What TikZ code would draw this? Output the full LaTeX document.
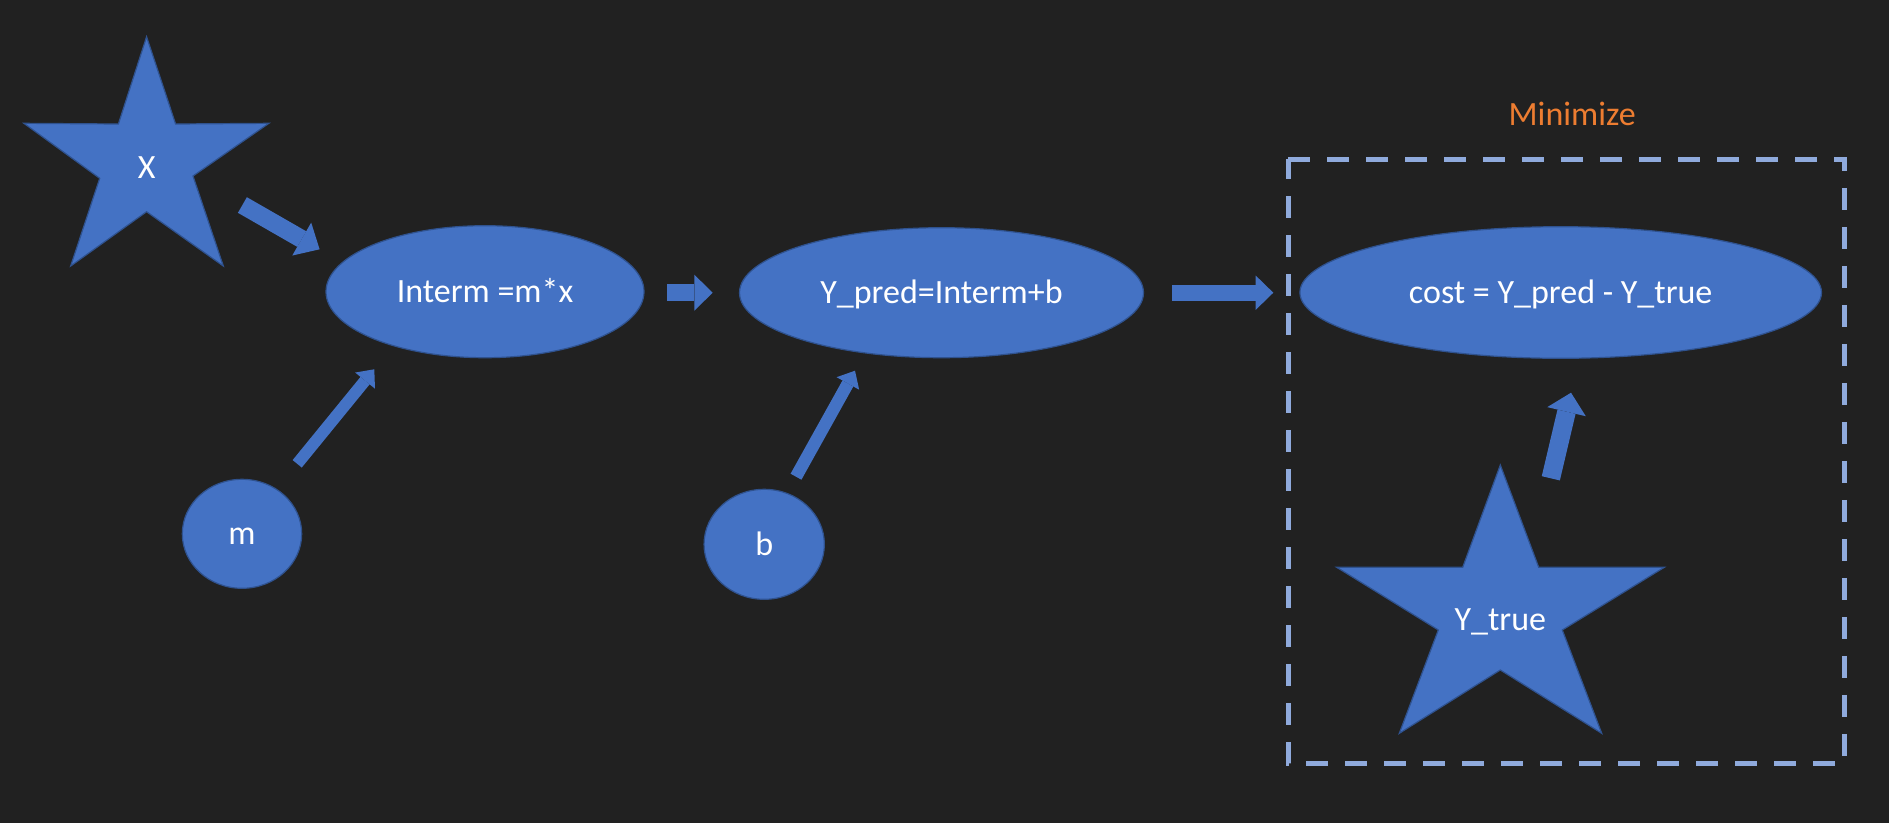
\documentclass[tikz,border=0pt]{standalone}
\usepackage{fontspec}
\setmainfont{Carlito}
\usetikzlibrary{shapes.geometric,arrows.meta}
\definecolor{bgc}{HTML}{212121}
\definecolor{blu}{HTML}{4472C4}
\definecolor{bluedge}{HTML}{2F528F}
\definecolor{dashc}{HTML}{8FAADC}
\definecolor{orng}{HTML}{ED7D31}
\newcommand\lblfont{\fontsize{34pt}{40pt}\selectfont}
\tikzset{
  lbl/.style={text=white, font=\lblfont, text height=21.7pt, text depth=0pt, inner sep=0pt},
  ell/.style={ellipse, lbl, fill=blu, draw=bluedge, line width=1.2pt},
  starshape/.style={fill=blu, draw=bluedge, line width=1.2pt, line join=miter},
  blockarrow/.style n args={3}{draw=blu, line width=#1, -{Triangle[width=#2,length=#3,line width=0pt]}},
  minbox/.style={draw=dashc, line width=5pt, dash pattern=on 22pt off 17pt}
}
\begin{document}
\begin{tikzpicture}[x=1pt,y=-1pt]
\fill[bgc] (0,0) rectangle (1889,823);
\useasboundingbox (0,0) rectangle (1889,823);

% dashed box and its label
\draw[minbox] (1288.3,159) -- (1844.4,159) -- (1844.4,763.3) -- (1288.3,763.3) -- cycle;
\node[text=orng, font=\lblfont, anchor=base, inner sep=0pt] (minlabel) at (1572.2,125.7) {Minimize};

% stars
\draw[starshape] (146.6,36.7) -- (175.6,124) -- (268.9,123.3) -- (193,176) -- (223.3,266)
  -- (146.6,211.7) -- (70.7,266) -- (99.7,178.3) -- (23.9,123.3) -- (118.4,124) -- cycle;
\node[lbl] (X) at (146.6,167.5) {X};

\draw[starshape] (1500.3,465) -- (1538.7,567.3) -- (1664.3,567.3) -- (1562.3,630) -- (1601.7,733.3)
  -- (1500.3,670) -- (1399.3,733.3) -- (1438.3,630) -- (1336.7,567.3) -- (1462.7,567.3) -- cycle;
\node[lbl] (ytrue) at (1500.3,619.2) {Y\_true};

% ellipses and circles
\node[ell, minimum width=318pt, minimum height=132pt] (interm) at (485,291.7) {Interm =m*x};
\node[ell, minimum width=404pt, minimum height=130pt] (ypred) at (941.5,292.7) {Y\_pred=Interm+b};
\node[ell, minimum width=521.6pt, minimum height=131.6pt] (cost) at (1560.7,292.5) {cost = Y\_pred - Y\_true};
\node[ell, minimum width=119.4pt, minimum height=109pt] (m) at (242,533.8) {m};
\node[ell, minimum width=120.3pt, minimum height=110pt] (b) at (764.2,544.3) {b};

% arrow end points
\coordinate (a1s) at (242.4,205);   \coordinate (a1e) at (319.6,249.3);
\coordinate (a2s) at (667.3,292.7); \coordinate (a2e) at (712.7,292.7);
\coordinate (a3s) at (1172.3,292.7);\coordinate (a3e) at (1273.3,292.7);
\coordinate (a4s) at (297.2,463.8); \coordinate (a4e) at (374.3,369.3);
\coordinate (a5s) at (796,476.7);   \coordinate (a5e) at (855,370.7);
\coordinate (a6s) at (1550.8,478.3);\coordinate (a6e) at (1571,392.7);

\draw[blockarrow={18pt}{38pt}{20.6pt}] (a1s) -- (a1e);
\draw[blockarrow={17.3pt}{36pt}{18.4pt}] (a2s) -- (a2e);
\draw[blockarrow={16pt}{34.3pt}{17.6pt}] (a3s) -- (a3e);
\draw[blockarrow={11.8pt}{25.6pt}{14.6pt}] (a4s) -- (a4e);
\draw[blockarrow={12.4pt}{25.8pt}{14.6pt}] (a5s) -- (a5e);
\draw[blockarrow={18.6pt}{39.6pt}{19.5pt}] (a6s) -- (a6e);
\end{tikzpicture}
\end{document}
